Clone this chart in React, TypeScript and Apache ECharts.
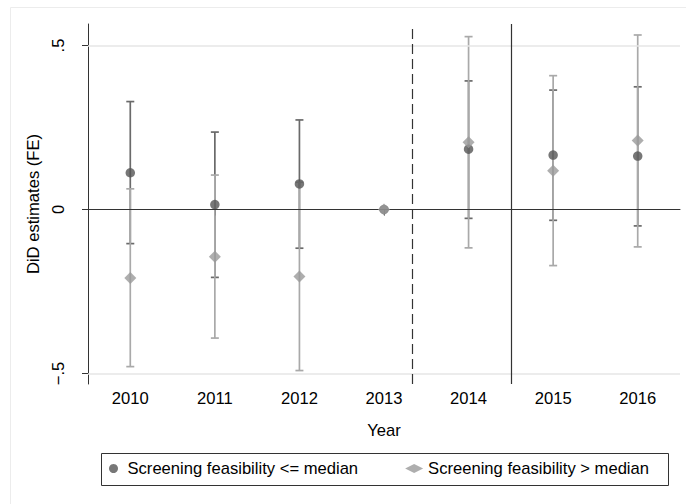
import React, { useEffect, useRef } from "react";
import * as echarts from "echarts";

const years = [2010, 2011, 2012, 2013, 2014, 2015, 2016];
const yTicks = [-0.5, 0, 0.5];
const yTickLabels = ["\u2212.5", "0", ".5"];

const lowName = "Screening feasibility <= median";
const lowEst = [0.112, 0.015, 0.078, 0, 0.184, 0.166, 0.163];
const lowCiLo = [-0.104, -0.207, -0.118, null, -0.027, -0.033, -0.05];
const lowCiHi = [0.329, 0.236, 0.273, null, 0.392, 0.364, 0.374];

const highName = "Screening feasibility > median";
const highEst = [-0.209, -0.144, -0.204, 0, 0.205, 0.118, 0.21];
const highCiLo = [-0.479, -0.392, -0.491, null, -0.117, -0.171, -0.114];
const highCiHi = [0.063, 0.105, 0.083, null, 0.527, 0.408, 0.532];

const dashedLineX = 2013.33;
const solidLineX = 2014.5;

const FONT = "'Liberation Sans', Arial, Helvetica, sans-serif";
const FS = 16.6;

function ciData(lo: (number | null)[], hi: (number | null)[]) {
  return years
    .map((y, i) => [y, lo[i], hi[i]])
    .filter((d) => d[1] != null && d[2] != null);
}

function ciSeries(data: any[], color: string, z: number) {
  return {
    type: "custom",
    z,
    silent: true,
    data,
    encode: { x: 0, y: [1, 2] },
    renderItem: (params: any, api: any) => {
      const x = api.value(0);
      const p1 = api.coord([x, api.value(1)]);
      const p2 = api.coord([x, api.value(2)]);
      const cap = 4;
      const style = { stroke: color, lineWidth: 1.7 };
      return {
        type: "group",
        children: [
          { type: "line", shape: { x1: p1[0], y1: p1[1], x2: p2[0], y2: p2[1] }, style },
          { type: "line", shape: { x1: p1[0] - cap, y1: p1[1], x2: p1[0] + cap, y2: p1[1] }, style },
          { type: "line", shape: { x1: p2[0] - cap, y1: p2[1], x2: p2[0] + cap, y2: p2[1] }, style },
        ],
      };
    },
  };
}

export default function App() {
  const ref = useRef<HTMLDivElement>(null);
  useEffect(() => {
    if (!ref.current) return;
    const chart = echarts.init(ref.current, null, { renderer: "svg" });
    const option: any = {
      animation: false,
      backgroundColor: "#ffffff",
      textStyle: { fontFamily: FONT },
      graphic: [
        {
          type: "rect",
          z: -10,
          shape: { x: 10.5, y: 7.5, width: 720, height: 540 },
          style: { fill: "none", stroke: "#ececec", lineWidth: 1 },
          silent: true,
        },
        {
          type: "rect",
          z: 10,
          shape: { x: 101.5, y: 453.5, width: 567, height: 32 },
          style: { fill: "none", stroke: "#333", lineWidth: 1 },
          silent: true,
        },
      ],
      grid: { left: 88, right: 6, top: 24, bottom: 120, containLabel: false },
      xAxis: {
        type: "value",
        min: 2009.5,
        max: 2016.5,
        name: "Year",
        nameLocation: "middle",
        nameGap: 38,
        nameTextStyle: { fontSize: FS, color: "#000", fontFamily: FONT },
        axisLine: { show: true, lineStyle: { color: "#333", width: 1 } },
        axisTick: { show: true, length: 6, lineStyle: { color: "#333" }, customValues: years },
        axisLabel: {
          customValues: years,
          fontSize: FS,
          color: "#000",
          margin: 6,
          fontFamily: FONT,
          formatter: (v: number) => String(Math.round(v)),
        },
        splitLine: { show: false },
      },
      yAxis: {
        type: "value",
        min: -0.532,
        max: 0.5655,
        name: "DiD estimates (FE)",
        nameLocation: "middle",
        nameGap: 41,
        nameRotate: 90,
        nameTextStyle: { fontSize: FS, color: "#000", fontFamily: FONT },
        axisLine: { show: true, lineStyle: { color: "#333", width: 1 } },
        axisTick: { show: true, length: 6, lineStyle: { color: "#333" }, customValues: yTicks },
        axisLabel: {
          customValues: yTicks,
          rotate: 90,
          fontSize: FS,
          color: "#000",
          margin: 21,
          fontFamily: FONT,
          formatter: (v: number) => {
            const i = yTicks.findIndex((t) => Math.abs(t - v) < 1e-6);
            return i >= 0 ? yTickLabels[i] : "";
          },
        },
        splitLine: { show: false },
      },
      legend: {
        data: [lowName, highName],
        left: 104,
        top: 453,
        orient: "horizontal",
        padding: [7, 5, 7, 5],
        itemWidth: 18,
        itemHeight: 9,
        itemGap: 47,
        borderWidth: 0,
        textStyle: { fontSize: FS, color: "#000", fontFamily: FONT },
        selectedMode: false,
      },
      series: [
        {
          type: "line",
          data: [],
          z: 1,
          silent: true,
          markLine: {
            silent: true,
            symbol: "none",
            label: { show: false },
            animation: false,
            data: [
              { yAxis: yTicks[2], lineStyle: { color: "#e6e6e6", width: 1.5, type: "solid" } },
              { yAxis: yTicks[0], lineStyle: { color: "#e6e6e6", width: 1.5, type: "solid" } },
              { yAxis: 0, lineStyle: { color: "#333", width: 1.2, type: "solid" } },
              { xAxis: dashedLineX, lineStyle: { color: "#333", width: 1.2, type: [10, 5] } },
              { xAxis: solidLineX, lineStyle: { color: "#333", width: 1.2, type: "solid" } },
            ],
          },
        },
        ciSeries(ciData(lowCiLo, lowCiHi), "#6a6a6a", 2),
        ciSeries(ciData(highCiLo, highCiHi), "#a9a9a9", 3),
        {
          name: lowName,
          type: "scatter",
          z: 4,
          symbol: "circle",
          symbolSize: 9.5,
          itemStyle: { color: "#555555" },
          data: years.map((y, i) => [y, lowEst[i]]),
        },
        {
          name: highName,
          type: "scatter",
          z: 5,
          symbol: "diamond",
          symbolSize: [12, 12],
          itemStyle: { color: "#9a9a9a" },
          data: years.map((y, i) => [y, highEst[i]]),
        },
      ],
    };
    chart.setOption(option);
    return () => chart.dispose();
  }, []);
  return (
    <div
      ref={ref}
      style={{ position: "absolute", left: 0, top: 0, width: 686, height: 504, background: "#fff" }}
    />
  );
}
